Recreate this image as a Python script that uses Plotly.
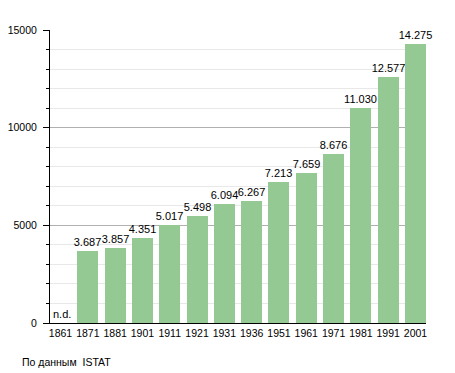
import plotly.graph_objects as go

years = ["1861", "1871", "1881", "1901", "1911", "1921", "1931", "1936",
         "1951", "1961", "1971", "1981", "1991", "2001"]
population = [None, 3687, 3857, 4351, 5017, 5498, 6094, 6267,
              7213, 7659, 8676, 11030, 12577, 14275]
missing_label = "n.d."
source_note = "По данным  ISTAT"

pos = list(range(len(years)))
labels = ["" if v is None else f"{v:,}".replace(",", ".") for v in population]
bw = 0.77
FONT = "Liberation Sans, Arial, sans-serif"
FS = 11

fig = go.Figure()
fig.add_trace(go.Bar(
    x=pos, y=population, width=bw,
    marker=dict(color="#94c994", line=dict(width=0)),
    text=labels, textposition="outside", constraintext="none",
    textfont=dict(family=FONT, size=FS, color="#000"),
    cliponaxis=False, hoverinfo="skip",
))

fig.add_annotation(x=pos[0] - bw / 2, y=0, text=missing_label, showarrow=False,
                   xanchor="left", yanchor="bottom", xshift=1, yshift=1,
                   font=dict(family=FONT, size=FS, color="#000"))
fig.add_annotation(xref="paper", yref="paper", x=-30 / 376, y=-39 / 293,
                   text=source_note, showarrow=False, xanchor="left", yanchor="middle",
                   font=dict(family=FONT, size=10.5, color="#000"))

fig.update_layout(
    width=447, height=365,
    margin=dict(l=42, r=29, t=22, b=50, autoexpand=False),
    plot_bgcolor="white", paper_bgcolor="white",
    showlegend=False, bargap=0,
    font=dict(family=FONT, size=10.5, color="#000"),
    xaxis=dict(range=[-bw / 2, pos[-1] + bw / 2], tickvals=pos, ticktext=years,
               showgrid=False, zeroline=False, showline=True, linecolor="#000",
               linewidth=1, ticks="", automargin=False, fixedrange=True),
    yaxis=dict(range=[0, 15000], tickvals=[0, 5000, 10000, 15000],
               ticktext=["0", "5000", "10000", "15000"],
               showgrid=True, gridcolor="#b0b0b0", gridwidth=1,
               zeroline=False, showline=True, linecolor="#000", linewidth=1,
               ticks="outside", ticklen=6, tickcolor="#000", ticklabelstandoff=4,
               minor=dict(dtick=1000, showgrid=True, gridcolor="#e8e8e8",
                          ticks="outside", ticklen=3, tickcolor="#000"),
               automargin=False, fixedrange=True),
)

fig.write_html("out.html")
